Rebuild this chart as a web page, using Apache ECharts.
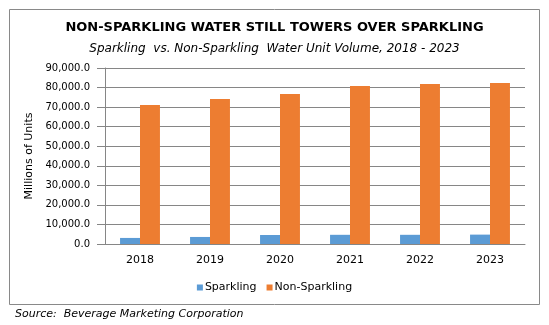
<!DOCTYPE html>
<html>
<head>
<meta charset="utf-8">
<script src="https://cdn.jsdelivr.net/npm/echarts@6/dist/echarts.min.js"></script>
<style>
html, body { margin: 0; padding: 0; background: #fff; }
#chart { width: 549px; height: 325px; }
</style>
</head>
<body>
<div id="chart"></div>
<script>
// Unit volume by year, millions of units
const years = ['2018', '2019', '2020', '2021', '2022', '2023'];
const sparkling = [3100, 3600, 4600, 4700, 4700, 4800];
const nonSparkling = [71100, 74100, 76700, 80800, 81800, 82300];
const yTicks = [0, 10000, 20000, 30000, 40000, 50000, 60000, 70000, 80000, 90000];

const fmt = v => v.toLocaleString('en-US', { minimumFractionDigits: 1, maximumFractionDigits: 1 });
const textFont = 'DejaVu Sans';

const chart = echarts.init(document.getElementById('chart'), null, { renderer: 'canvas' });
chart.setOption({
  animation: false,
  backgroundColor: '#ffffff',
  title: [
    {
      text: 'NON-SPARKLING WATER STILL TOWERS OVER SPARKLING',
      left: 'center', top: 16,
      textStyle: { fontFamily: textFont, fontWeight: 'bold', fontSize: 13, color: '#000' }
    },
    {
      text: 'Sparkling  vs. Non-Sparkling  Water Unit Volume, 2018 - 2023',
      left: 'center', top: 38,
      textStyle: { fontFamily: textFont, fontStyle: 'italic', fontWeight: 'normal', fontSize: 12, color: '#000' }
    },
    {
      text: 'Source:  Beverage Marketing Corporation',
      left: 10, top: 304,
      textStyle: { fontFamily: textFont, fontStyle: 'italic', fontWeight: 'normal', fontSize: 11, color: '#000' }
    }
  ],
  graphic: [{
    type: 'rect',
    shape: { x: 9.5, y: 9.5, width: 530, height: 295 },
    style: { fill: 'none', stroke: '#898989', lineWidth: 1 },
    silent: true
  }],
  legend: {
    data: ['Sparkling', 'Non-Sparkling'],
    left: 'center', top: 277,
    itemWidth: 6, itemHeight: 6, itemGap: 10,
    icon: 'rect',
    textStyle: { fontFamily: textFont, fontSize: 11, color: '#000', padding: [0, 0, 0, -3] }
  },
  grid: { left: 105, right: 24, top: 68, bottom: 81, containLabel: false },
  xAxis: {
    type: 'category',
    data: years,
    axisLine: { lineStyle: { color: '#868686' } },
    axisTick: { show: false },
    axisLabel: { fontFamily: textFont, fontSize: 11, color: '#000', margin: 11 }
  },
  yAxis: {
    type: 'value',
    min: yTicks[0], max: yTicks[yTicks.length - 1], interval: 10000,
    name: 'Millions of Units',
    nameLocation: 'middle', nameGap: 68, nameRotate: 90,
    nameTextStyle: { fontFamily: textFont, fontSize: 11, color: '#000' },
    axisLine: { show: true, lineStyle: { color: '#868686' } },
    axisTick: { show: true, length: 8, inside: false, lineStyle: { color: '#868686' } },
    splitLine: { lineStyle: { color: '#868686' } },
    axisLabel: { fontFamily: textFont, fontSize: 10, color: '#000', margin: 15, formatter: fmt }
  },
  series: [
    {
      name: 'Sparkling', type: 'bar', data: sparkling,
      itemStyle: { color: '#5B9BD5' },
      barGap: '0%', barCategoryGap: '43%'
    },
    {
      name: 'Non-Sparkling', type: 'bar', data: nonSparkling,
      itemStyle: { color: '#ED7D31' },
      barGap: '0%', barCategoryGap: '43%'
    }
  ]
});
</script>
</body>
</html>
